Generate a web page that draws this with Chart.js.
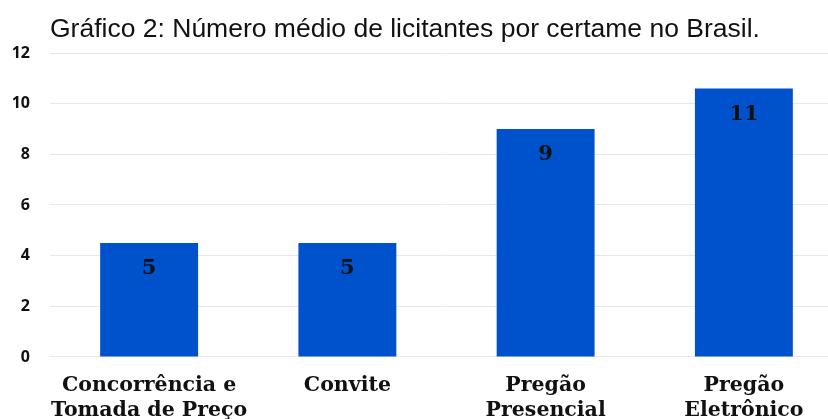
<!DOCTYPE html>
<html>
<head>
<meta charset="utf-8">
<script src="https://cdn.jsdelivr.net/npm/chart.js@4/dist/chart.umd.min.js"></script>
<style>
  html, body { margin: 0; padding: 0; background: #fff; overflow: hidden; }
  #wrap { position: relative; width: 843px; height: 431px; }
</style>
</head>
<body>
<div id="wrap"><canvas id="chart"></canvas></div>
<script>
// data
var categories = [["Concorrência e", "Tomada de Preço"], "Convite", ["Pregão", "Presencial"], ["Pregão", "Eletrônico"]];
var mediaLicitantes = [4.5, 4.5, 9.0, 10.6];
var yTicks = [0, 2, 4, 6, 8, 10, 12];
var titulo = 'Gráfico 2: Número médio de licitantes por certame no Brasil.';

// title drawn from the left edge of the plot area
var titlePlugin = {
    id: 'titlePlugin',
    afterDraw: function(chart) {
        var ctx = chart.ctx;
        ctx.save();
        ctx.font = '26.5px "Liberation Sans", Arial';
        ctx.fillStyle = '#111';
        ctx.textAlign = 'left';
        ctx.textBaseline = 'alphabetic';
        ctx.fillText(titulo, chart.chartArea.left, 37);
        ctx.restore();
    }
};

// value labels inside top of each bar (rounded like the original)
var barLabels = {
    id: 'barLabels',
    afterDatasetsDraw: function(chart) {
        var ctx = chart.ctx;
        var meta = chart.getDatasetMeta(0);
        ctx.save();
        ctx.font = 'bold 21px "DejaVu Serif"';
        ctx.fillStyle = '#111';
        ctx.textAlign = 'center';
        ctx.textBaseline = 'middle';
        meta.data.forEach(function(bar, i) {
            ctx.fillText(Math.round(mediaLicitantes[i]), bar.x, bar.y + 26);
        });
        ctx.restore();
    }
};

var ctx = document.getElementById("chart").getContext('2d');
var chart = new Chart(ctx, {
    type: 'bar',
    data: {
        labels: categories,
        datasets: [{
            label: 'Número médio de licitantes',
            data: mediaLicitantes,
            backgroundColor: 'rgb(0, 82, 204)',
            borderWidth: 0,
            barPercentage: 0.494,
            categoryPercentage: 1
        }]
    },
    options: {
        responsive: true,
        maintainAspectRatio: false,
        animation: false,
        layout: { padding: { left: 12, right: 0, top: 53, bottom: 0 } },
        plugins: {
            legend: { display: false },
            tooltip: { enabled: false },
            title: { display: false }
        },
        scales: {
            y: {
                min: 0,
                max: 12,
                afterBuildTicks: function(axis) {
                    axis.ticks = yTicks.map(function(v) { return { value: v }; });
                },
                afterFit: function(axis) { axis.width = 38; },
                border: { display: false },
                grid: { color: '#e8e8e8', drawTicks: false },
                ticks: {
                    color: '#111',
                    padding: 20,
                    font: { family: '"Open Sans"', size: 16, weight: 'bold' }
                }
            },
            x: {
                afterFit: function(axis) { axis.paddingLeft = 0; axis.paddingRight = 0; },
                border: { color: '#e8e8e8' },
                grid: { display: false },
                ticks: {
                    color: '#111',
                    autoSkip: false,
                    maxRotation: 0,
                    padding: 8,
                    font: { family: '"DejaVu Serif"', size: 20.5, weight: 'bold', lineHeight: 1.22 }
                }
            }
        }
    },
    plugins: [barLabels, titlePlugin]
});
</script>
</body>
</html>
